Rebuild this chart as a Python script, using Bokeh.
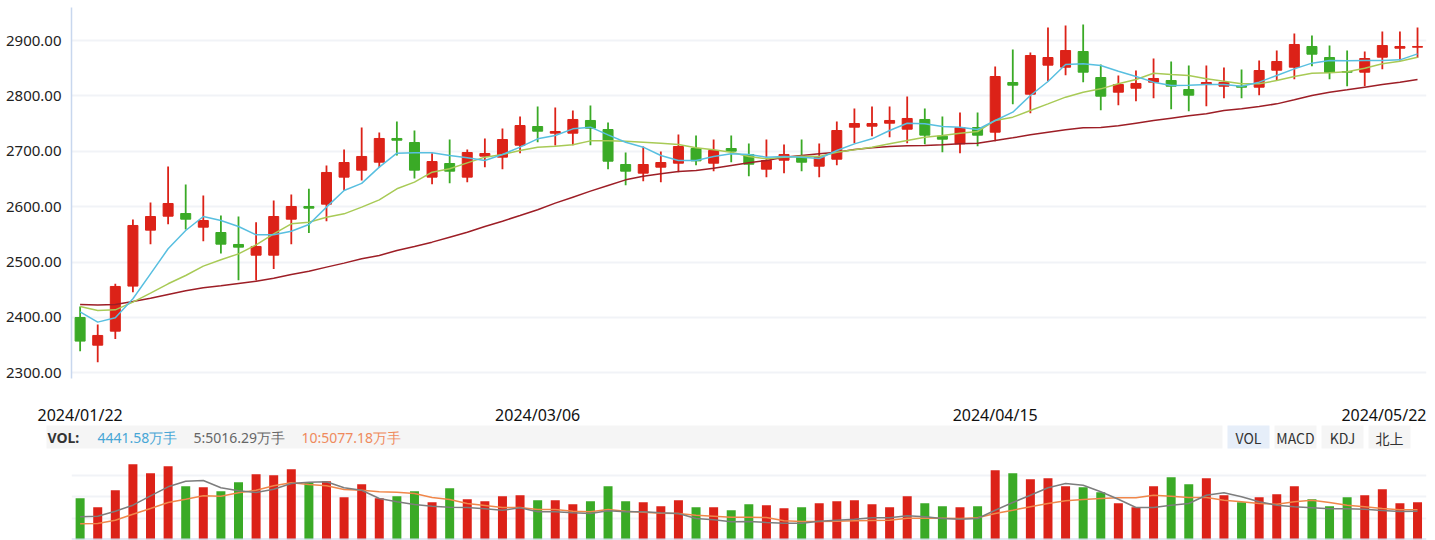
from bokeh.plotting import figure
from bokeh.models import Range1d, FixedTicker, PrintfTickFormatter, ColumnDataSource, Span
from bokeh.layouts import column
from bokeh.embed import file_html
from bokeh.resources import INLINE
from bokeh.core.properties import value

# ---------------- data ----------------
OPEN = [2399.9, 2349.9, 2375.2, 2456.5, 2557.6, 2582.8, 2587.6, 2563.0, 2553.3, 2531.7,
        2512.4, 2512.4, 2577.4, 2600.3, 2604.5, 2653.3, 2665.9, 2680.3, 2723.1, 2715.8,
        2653.3, 2677.9, 2653.3, 2691.2, 2689.4, 2711.0, 2744.7, 2732.7, 2732.7, 2755.6,
        2739.3, 2676.1, 2660.5, 2671.3, 2678.5, 2705.0, 2678.5, 2705.0, 2694.2, 2667.7,
        2683.9, 2690.6, 2673.1, 2685.7, 2743.5, 2745.3, 2750.7, 2739.9, 2757.4, 2727.3,
        2713.4, 2742.9, 2734.5, 2824.2, 2803.1, 2855.5, 2851.8, 2880.1, 2833.2, 2806.7,
        2813.9, 2824.8, 2827.8, 2811.5, 2820.5, 2817.5, 2817.5, 2815.7, 2846.4, 2851.8,
        2889.2, 2869.3, 2844.0, 2842.8, 2869.9, 2886.1, 2887.9]
CLOSE = [2357.2, 2367.4, 2455.9, 2566.0, 2582.2, 2605.7, 2577.4, 2575.0, 2532.3, 2526.9,
         2528.1, 2582.2, 2600.3, 2597.3, 2661.7, 2679.7, 2690.6, 2723.1, 2720.0, 2665.9,
         2681.5, 2664.1, 2697.8, 2696.0, 2721.2, 2746.5, 2736.3, 2735.7, 2757.4, 2741.7,
         2682.1, 2664.1, 2676.1, 2679.7, 2708.6, 2682.7, 2701.4, 2700.2, 2676.7, 2683.3,
         2694.2, 2680.3, 2689.4, 2737.5, 2750.1, 2750.1, 2755.6, 2759.2, 2729.1, 2721.9,
         2742.9, 2729.1, 2835.0, 2819.4, 2872.9, 2869.3, 2881.9, 2842.8, 2799.5, 2820.5,
         2822.4, 2831.4, 2817.5, 2801.3, 2824.2, 2824.2, 2815.7, 2845.8, 2862.1, 2892.8,
         2875.3, 2842.2, 2842.8, 2867.5, 2890.9, 2889.2, 2889.2]
HIGH = [2419.8, 2387.2, 2460.7, 2576.8, 2607.5, 2672.5, 2640.0, 2620.2, 2584.0, 2582.2,
        2572.0, 2611.1, 2622.0, 2632.2, 2674.3, 2703.2, 2742.9, 2733.9, 2753.7, 2737.5,
        2696.6, 2721.2, 2703.2, 2723.1, 2741.1, 2762.8, 2780.8, 2779.0, 2773.6, 2782.6,
        2751.9, 2697.8, 2708.6, 2699.6, 2730.3, 2728.5, 2721.2, 2728.5, 2714.0, 2721.2,
        2712.2, 2721.2, 2714.0, 2753.7, 2777.2, 2780.8, 2780.8, 2798.9, 2777.2, 2762.8,
        2770.0, 2770.0, 2853.0, 2883.7, 2878.3, 2923.5, 2927.1, 2928.9, 2856.6, 2836.8,
        2845.8, 2867.5, 2862.1, 2854.8, 2854.8, 2851.2, 2847.6, 2863.9, 2881.9, 2912.6,
        2909.0, 2890.9, 2881.9, 2880.1, 2916.2, 2916.2, 2923.5]
LOW = [2339.1, 2319.2, 2360.8, 2445.6, 2532.3, 2568.4, 2558.8, 2537.7, 2515.4, 2467.3,
       2466.7, 2487.2, 2532.3, 2552.2, 2573.8, 2629.2, 2647.2, 2671.3, 2692.4, 2650.8,
       2640.6, 2642.4, 2644.2, 2671.3, 2667.7, 2696.6, 2716.4, 2710.4, 2711.0, 2711.0,
       2667.7, 2638.8, 2646.0, 2644.2, 2662.3, 2674.9, 2664.1, 2680.3, 2655.1, 2653.3,
       2660.5, 2664.1, 2653.3, 2674.9, 2714.6, 2727.3, 2725.5, 2714.6, 2712.8, 2698.4,
       2696.6, 2709.2, 2718.2, 2785.0, 2768.8, 2826.6, 2837.4, 2824.8, 2774.2, 2783.2,
       2790.5, 2795.9, 2776.0, 2772.4, 2781.4, 2795.9, 2795.9, 2801.3, 2827.8, 2830.2,
       2853.6, 2830.2, 2817.5, 2817.5, 2848.2, 2863.9, 2868.7]

MA5 = [2410.0, 2391.5, 2399.3, 2433.6, 2478.7, 2523.9, 2557.0, 2582.2, 2575.0, 2564.2,
       2549.1, 2549.1, 2555.7, 2567.8, 2599.1, 2629.2, 2642.0, 2671.3, 2696.6, 2697.2,
       2697.2, 2692.4, 2688.2, 2683.3, 2694.2, 2707.4, 2722.5, 2728.5, 2740.5, 2743.5,
       2729.7, 2716.4, 2707.4, 2692.4, 2683.3, 2683.3, 2690.6, 2695.4, 2694.2, 2689.4,
       2690.6, 2689.4, 2687.0, 2701.4, 2713.4, 2722.5, 2737.5, 2750.7, 2749.5, 2744.7,
       2743.5, 2739.3, 2755.6, 2770.6, 2800.7, 2826.0, 2856.7, 2857.9, 2854.9, 2844.6,
       2835.0, 2824.8, 2818.7, 2819.3, 2820.5, 2820.5, 2817.5, 2824.8, 2836.8, 2848.8,
       2859.1, 2863.9, 2863.3, 2863.9, 2863.9, 2865.1, 2875.9]
MA10 = [2419.8, 2412.5, 2413.7, 2427.6, 2443.8, 2460.7, 2475.7, 2492.6, 2504.0, 2514.8,
        2531.1, 2550.9, 2569.0, 2572.0, 2581.0, 2587.0, 2599.1, 2612.3, 2632.2, 2644.2,
        2662.3, 2668.3, 2679.1, 2689.4, 2694.2, 2701.4, 2707.4, 2709.2, 2711.6, 2718.8,
        2718.8, 2718.2, 2716.4, 2714.6, 2712.2, 2706.2, 2702.6, 2698.4, 2690.6, 2686.4,
        2689.4, 2691.2, 2690.6, 2698.4, 2702.6, 2707.4, 2713.4, 2719.4, 2725.5, 2728.5,
        2732.7, 2735.7, 2755.6, 2761.6, 2773.6, 2785.6, 2797.7, 2806.7, 2812.7, 2821.8,
        2829.6, 2841.0, 2838.6, 2836.8, 2830.8, 2826.6, 2821.8, 2821.8, 2827.8, 2835.0,
        2841.0, 2841.6, 2843.4, 2850.0, 2857.9, 2862.7, 2869.9]
MA_LONG = [2423.4, 2422.2, 2423.4, 2428.8, 2434.8, 2441.4, 2448.0, 2453.5, 2457.1, 2461.3,
           2465.5, 2470.9, 2477.5, 2483.5, 2490.8, 2498.0, 2505.8, 2511.8, 2520.9, 2528.1,
           2535.9, 2544.9, 2553.9, 2564.2, 2573.8, 2584.0, 2594.3, 2606.3, 2617.1, 2628.0,
           2638.2, 2648.4, 2655.0, 2659.3, 2663.5, 2665.3, 2669.5, 2674.3, 2679.1, 2683.3,
           2689.4, 2692.4, 2695.4, 2698.4, 2703.2, 2706.2, 2708.6, 2709.8, 2710.4, 2711.6,
           2713.4, 2714.6, 2719.4, 2724.3, 2729.7, 2734.5, 2738.7, 2742.3, 2742.9, 2745.9,
           2750.7, 2755.6, 2759.8, 2764.0, 2767.6, 2773.6, 2776.6, 2780.8, 2785.6, 2792.9,
           2800.7, 2806.7, 2810.9, 2815.7, 2820.5, 2824.8, 2829.6]

# volume in 万手
VOLUME = [4956, 3876, 5916, 9036, 7956, 8796, 6396, 6276, 5796, 6876,
          7836, 7716, 8436, 6876, 6996, 5076, 6636, 4956, 5196, 5796,
          4476, 6156, 4836, 4596, 5196, 5316, 4716, 4716, 4236, 4596,
          6396, 4596, 4476, 3996, 4716, 3876, 3876, 3516, 4236, 4116,
          3756, 3876, 4356, 4596, 4716, 4236, 3876, 5196, 4356, 3996,
          3876, 3996, 8316, 7956, 7236, 7356, 6396, 6276, 5676, 4356,
          3876, 6396, 7476, 6636, 7356, 5316, 4476, 5076, 5436, 6396,
          4836, 3996, 5076, 5316, 6036, 4356, 4476]
VOL_MA5 = [2724, 2796, 3396, 4116, 5244, 6324, 6996, 7080, 6204, 5844,
           5640, 6036, 6720, 6876, 6924, 6204, 5916, 4920, 4524, 4200,
           3996, 3876, 3840, 3684, 3516, 3804, 3324, 3324, 3204, 3120,
           3444, 3324, 3324, 3204, 3120, 2520, 2364, 2124, 2160, 2040,
           1956, 1956, 2196, 2316, 2436, 2604, 2604, 2844, 2724, 2520,
           2436, 2520, 3516, 4440, 5316, 6204, 6720, 6516, 5724, 4836,
           3840, 3840, 4116, 4320, 5316, 5604, 5124, 4524, 4116, 3924,
           3804, 3684, 3684, 3636, 3480, 3360, 3396]
VOL_MA10 = [1884, 1920, 2316, 3036, 3720, 4440, 4836, 5244, 5196, 5604,
            5916, 6444, 6804, 6600, 6444, 6000, 5916, 5724, 5676, 5520,
            5040, 4800, 4320, 4080, 3840, 3840, 3600, 3600, 3396, 3324,
            3600, 3396, 3276, 3156, 3120, 2916, 2796, 2676, 2676, 2640,
            2244, 2160, 2160, 2196, 2244, 2280, 2316, 2556, 2556, 2556,
            2520, 2604, 3120, 3516, 3924, 4320, 4644, 4800, 4920, 5004,
            5004, 5316, 5196, 5040, 5040, 4716, 4524, 4320, 4236, 4524,
            4716, 4440, 4116, 3924, 3720, 3564, 3564]

DATE_TICKS = [0, 26, 52, 76]
DATE_LABELS = ["2024/01/22", "2024/03/06", "2024/04/15", "2024/05/22"]
PRICE_TICKS = [2300, 2400, 2500, 2600, 2700, 2800, 2900]
VOL_TICKS = [2580, 5160, 7740, 10320]

VOL_HEADER = ["VOL:", "4441.58万手", "5:5016.29万手", "10:5077.18万手"]
BUTTONS = ["VOL", "MACD", "KDJ", "北上"]

# ---------------- styles ----------------
RED = "#dc2218"
GREEN = "#3aaa26"
C_MA5 = "#58bfe0"
C_MA10 = "#a8ca56"
C_LONG = "#9d1e26"
C_VMA5 = "#7d7d7d"
C_VMA10 = "#f0874a"
GRID = "#f1f3f7"
AXIS = "#c8d7ee"
FONT = "Noto Sans"

W = 1435
LEFT, RIGHT = 71, 9
HA, HB, HC = 390, 63, 87
N = len(CLOSE)
idx = list(range(N))
x_start, x_end = -0.49, N - 1 + 0.51
SP = (W - LEFT - RIGHT) / (x_end - x_start)

colors = [RED if c >= o else GREEN for o, c in zip(OPEN, CLOSE)]
src = ColumnDataSource(dict(
    x=idx, open=OPEN, close=CLOSE, high=HIGH, low=LOW,
    top=[max(o, c) for o, c in zip(OPEN, CLOSE)],
    bottom=[min(o, c) for o, c in zip(OPEN, CLOSE)],
    color=colors, vol=VOLUME))

xr = Range1d(x_start, x_end)

# ---------------- price chart ----------------
pA = figure(width=W, height=HA, x_range=xr, y_range=Range1d(2289.7, 2959.6),
            output_backend="svg", toolbar_location=None,
            min_border_left=LEFT, min_border_right=RIGHT, min_border_top=7,
            min_border_bottom=HA - 378)
pA.outline_line_color = None
pA.xaxis.visible = False
pA.xgrid.visible = False
pA.ygrid.grid_line_color = GRID
pA.ygrid.grid_line_width = 2
ya = pA.yaxis[0]
ya.ticker = FixedTicker(ticks=PRICE_TICKS)
ya.formatter = PrintfTickFormatter(format="%.2f")
ya.axis_line_color = AXIS
ya.axis_line_width = 1.5
ya.major_tick_line_color = None
ya.minor_tick_line_color = None
ya.major_label_standoff = 4
ya.major_label_text_font = FONT
ya.major_label_text_font_size = "15px"
ya.major_label_text_color = "#222222"

pA.segment(x0="x", y0="high", x1="x", y1="low", line_color="color", line_width=1.8, source=src)
pA.vbar(x="x", width=10.0 / SP, top="top", bottom="bottom", fill_color="color",
        line_color="color", line_width=1, source=src)
pA.line(idx, MA_LONG, line_color=C_LONG, line_width=1.5)
pA.line(idx, MA10, line_color=C_MA10, line_width=1.5)
pA.line(idx, MA5, line_color=C_MA5, line_width=1.5)

# ---------------- middle strip: dates + VOL header (y in page pixels) ----------------
pB = figure(width=W, height=HB, x_range=Range1d(x_start - LEFT / SP, x_end + RIGHT / SP),
            y_range=Range1d(HA + HB, HA), output_backend="svg", toolbar_location=None,
            min_border=0, min_border_left=0, min_border_right=0,
            min_border_top=0, min_border_bottom=0)
pB.frame_align = False
pB.extra_x_ranges = {"px": Range1d(0, W)}
pB.outline_line_color = None
pB.axis.visible = False
pB.grid.visible = False

date_font = dict(text_font=value(FONT), text_font_size="16px", text_color="#111111",
                 text_baseline="middle")
pB.text(x=DATE_TICKS[:-1], y=[414] * (len(DATE_TICKS) - 1), text=DATE_LABELS[:-1],
        text_align="center", **date_font)
pB.text(x=[x_end], y=[414], text=DATE_LABELS[-1:], text_align="right", **date_font)

pB.quad(left=[46], right=[1222], top=[425], bottom=[448], x_range_name="px",
        fill_color="#f5f5f5", line_color=None)
hx = [47, 97, 193, 301]
hcol = ["#333333", "#47a6d6", "#666666", "#ef8a5c"]
for t, xx, cc, st in zip(VOL_HEADER, hx, hcol, ["bold", "normal", "normal", "normal"]):
    pB.text(x=[xx], y=[437], text=[t], x_range_name="px", text_align="left",
            text_baseline="middle", text_font=value(FONT), text_font_size="14px",
            text_color=cc, text_font_style=st)

bx = [1227, 1274, 1321, 1368]
bfill = ["#e6eef9", "#f5f5f5", "#f5f5f5", "#f5f5f5"]
for t, xx, ff in zip(BUTTONS, bx, bfill):
    pB.quad(left=[xx], right=[xx + 42], top=[425], bottom=[448], x_range_name="px",
            fill_color=ff, line_color=None)
    pB.text(x=[xx + 21], y=[437], text=[t], x_range_name="px", text_align="center",
            text_baseline="middle", text_font=value("Noto Sans CJK SC"), text_font_size="14px",
            text_color="#333333")

# ---------------- volume chart ----------------
pC = figure(width=W, height=HC, x_range=xr, y_range=Range1d(0, VOL_TICKS[-1]),
            output_backend="svg", toolbar_location=None,
            min_border_left=LEFT, min_border_right=RIGHT, min_border_top=0, min_border_bottom=1)
pC.outline_line_color = None
pC.xgrid.visible = False
pC.yaxis.ticker = FixedTicker(ticks=VOL_TICKS)
pC.ygrid.ticker = FixedTicker(ticks=VOL_TICKS)
pC.ygrid.grid_line_color = GRID
pC.ygrid.grid_line_width = 2
pC.xaxis.visible = False
pC.yaxis.visible = False
pC.vbar(x="x", width=9.0 / SP, top="vol", bottom=0, fill_color="color", line_color=None, source=src)
pC.line(idx, VOL_MA10, line_color=C_VMA10, line_width=1.5)
pC.line(idx, VOL_MA5, line_color=C_VMA5, line_width=1.5)
pC.add_layout(Span(location=0, dimension="width", line_color=AXIS, line_width=2))

layout = column(pA, pB, pC, spacing=0)
open("out.html", "w").write(file_html(layout, INLINE))
